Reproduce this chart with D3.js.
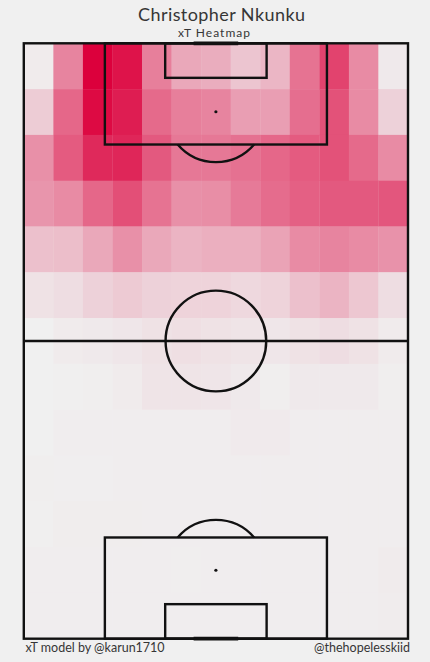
<!DOCTYPE html>
<html>
<head>
<meta charset="utf-8">
<script src="https://cdn.jsdelivr.net/npm/d3@7"></script>
<style>
  html, body { margin: 0; padding: 0; background: #f0f0f0; }
  svg { display: block; }
  text { font-family: "Lato", "Open Sans", sans-serif; fill: #363636; }
</style>
</head>
<body>
<script>
// Size of the whole picture
var width = 430;
var height = 662;

var playerName = "Christopher Nkunku";
var subTitle = "xT Heatmap";
var creditLeft = "xT model by @karun1710";
var creditRight = "@thehopelesskiid";

// heatmap bins, 13 x 13, top row = attacking end (relative xT, max = 1)
var row0  = [0.02, 0.45, 1.00, 0.92, 0.47, 0.30, 0.28, 0.18, 0.24, 0.52, 0.72, 0.42, 0.03];
var row1  = [0.15, 0.57, 0.96, 0.88, 0.56, 0.47, 0.45, 0.34, 0.34, 0.54, 0.66, 0.42, 0.13];
var row2  = [0.40, 0.62, 0.83, 0.84, 0.63, 0.50, 0.50, 0.53, 0.57, 0.62, 0.66, 0.56, 0.42];
var row3  = [0.38, 0.42, 0.57, 0.67, 0.52, 0.40, 0.41, 0.49, 0.55, 0.60, 0.63, 0.63, 0.64];
var row4  = [0.20, 0.21, 0.30, 0.40, 0.30, 0.25, 0.27, 0.27, 0.32, 0.42, 0.45, 0.42, 0.39];
var row5  = [0.06, 0.08, 0.13, 0.16, 0.13, 0.12, 0.12, 0.10, 0.12, 0.20, 0.25, 0.17, 0.08];
var row6  = [0.00, 0.02, 0.03, 0.04, 0.06, 0.07, 0.06, 0.05, 0.04, 0.06, 0.08, 0.06, 0.02];
var row7  = [0.00, 0.005, 0.01, 0.02, 0.05, 0.05, 0.045, 0.03, 0.01, 0.03, 0.03, 0.03, 0.01];
var row8  = [0.00, 0.012, 0.012, 0.012, 0.012, 0.012, 0.012, 0.025, 0.025, 0.012, 0.012, 0.012, 0.012];
var row9  = [0.01, 0.007, 0.007, 0.012, 0.012, 0.012, 0.012, 0.012, 0.012, 0.012, 0.012, 0.012, 0.012];
var row10 = [0.005, 0.014, 0.014, 0.014, 0.012, 0.012, 0.012, 0.012, 0.012, 0.012, 0.012, 0.012, 0.012];
var row11 = [0.013, 0.013, 0.013, 0.013, 0.013, 0.010, 0.012, 0.012, 0.012, 0.012, 0.012, 0.012, 0.02];
var row12 = [0.013, 0.013, 0.013, 0.013, 0.013, 0.012, 0.012, 0.012, 0.012, 0.012, 0.012, 0.012, 0.015];

var grid = [row0, row1, row2, row3, row4, row5, row6, row7, row8, row9, row10, row11, row12];
var nCols = 13;
var nRows = 13;

// Create SVG
var svg = d3.select("body")
    .append("svg")
    .attr("width", width)
    .attr("height", height);

svg.append("rect")
    .attr("width", width)
    .attr("height", height)
    .attr("fill", "#f0f0f0");

// opta pitch: across 0-100 left to right, along 0-100 bottom to top
var x = d3.scaleLinear().domain([0, 100]).range([23.8, 408]);
var y = d3.scaleLinear().domain([0, 100]).range([638.7, 43.3]);

var colour = d3.scaleLinear()
    .domain([0, 1])
    .range(["#f0f0f0", "#dc003c"])
    .interpolate(d3.interpolateRgb);

// flatten grid into cells
var cells = [];
grid.forEach(function(row, r) {
  row.forEach(function(v, c) {
    cells.push({ r: r, c: c, v: v });
  });
});

var binW = 100 / nCols;
var binH = 100 / nRows;

var g = svg.append("g");

g.selectAll(".cell")
    .data(cells)
    .enter()
    .append("rect")
    .attr("class", "cell")
    .attr("x", function(d) { return x(d.c * binW); })
    .attr("y", function(d) { return y(100 - d.r * binH); })
    .attr("width", function(d) { return x((d.c + 1) * binW) - x(d.c * binW) + 0.3; })
    .attr("height", function(d) { return y(100 - (d.r + 1) * binH) - y(100 - d.r * binH) + 0.3; })
    .attr("fill", function(d) { return colour(d.v); });

// pitch lines
var lines = svg.append("g")
    .attr("fill", "none")
    .attr("stroke", "#111")
    .attr("stroke-width", 2.4);

function box(x0, x1, y0, y1) {
  lines.append("rect")
      .attr("x", x(x0))
      .attr("y", Math.min(y(y0), y(y1)))
      .attr("width", x(x1) - x(x0))
      .attr("height", Math.abs(y(y1) - y(y0)));
}

box(0, 100, 0, 100);
// penalty areas and six yard boxes
box(21.1, 78.9, 83, 100);
box(21.1, 78.9, 0, 17);
box(36.8, 63.2, 94.2, 100);
box(36.8, 63.2, 0, 5.8);

// halfway line
lines.append("line")
    .attr("x1", x(0)).attr("x2", x(100))
    .attr("y1", y(50)).attr("y2", y(50));

var radius = x(13.1) - x(0);

lines.append("circle")
    .attr("cx", x(50))
    .attr("cy", y(50))
    .attr("r", radius);

// penalty arcs, only the part outside the box
var topAngle = Math.acos((y(83) - y(88.5)) / radius);
var arc = d3.arc().innerRadius(radius).outerRadius(radius);

lines.append("path")
    .attr("transform", "translate(" + x(50) + "," + y(88.5) + ")")
    .attr("d", arc({ startAngle: Math.PI - topAngle, endAngle: Math.PI + topAngle }));

lines.append("path")
    .attr("transform", "translate(" + x(50) + "," + y(11.5) + ")")
    .attr("d", arc({ startAngle: -topAngle, endAngle: topAngle }));

// spots
var spots = [[50, 88.5, 1.6], [50, 11.5, 1.6], [50, 50, 1.1]];
svg.selectAll(".spot")
    .data(spots)
    .enter()
    .append("circle")
    .attr("class", "spot")
    .attr("cx", function(d) { return x(d[0]); })
    .attr("cy", function(d) { return y(d[1]); })
    .attr("r", function(d) { return d[2]; })
    .attr("fill", "#111");

// goals
[100, 0].forEach(function(gl) {
  svg.append("line")
      .attr("x1", x(44.2)).attr("x2", x(55.8))
      .attr("y1", y(gl)).attr("y2", y(gl))
      .attr("stroke", "#111")
      .attr("stroke-width", 3.8);
});

// texts: keep the size, widen with letter spacing to the original width
function label(txt, px, py, anchor, size, wantWidth) {
  var t = svg.append("text")
      .attr("x", px)
      .attr("y", py)
      .attr("text-anchor", anchor)
      .attr("font-size", size)
      .text(txt);
  var w = t.node().getComputedTextLength();
  var gap = (wantWidth - w) / (txt.length - 1);
  if (w > 0 && gap > 0) {
    t.attr("letter-spacing", gap);
    if (anchor == "middle") t.attr("x", px + gap / 2);
    if (anchor == "end") t.attr("x", px + gap);
  }
  return t;
}

label(playerName, 221.5, 21, "middle", 18, 167);
label(subTitle, 214, 36.5, "middle", 12, 72);
label(creditLeft, 25.5, 652, "start", 12.5, 137);
label(creditRight, 410, 652, "end", 12.5, 89);
</script>
</body>
</html>
